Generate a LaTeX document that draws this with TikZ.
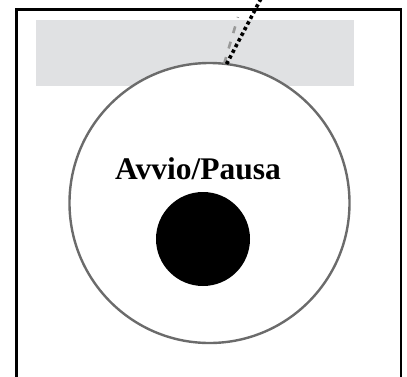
\documentclass[tikz,border=0pt]{standalone}
\usepackage{fontspec}
\setmainfont{Liberation Serif}
\usetikzlibrary{positioning}
\definecolor{bandgray}{RGB}{224,225,227}
\begin{document}
\begin{tikzpicture}[
    x=1pt, y=-1pt,
    frame/.style={draw=black, line width=2.2pt},
    band/.style={rectangle, fill=bandgray, minimum width=318pt, minimum height=66pt, inner sep=0pt, outer sep=0pt},
    knob/.style={circle, draw=black!58, line width=2.4pt, fill=white, minimum size=280pt, inner sep=0pt, outer sep=0pt},
    button/.style={circle, fill=black, minimum size=94pt, inner sep=0pt},
    caption/.style={font=\bfseries\fontsize{31.5}{36}\selectfont, inner sep=0pt},
    lead/.style={line width=3.6pt, dash pattern=on 3.4pt off 3pt},
    ghost/.style={draw=black!40, line width=2.6pt, dash pattern=on 7pt off 9pt}
]
\useasboundingbox (0,0) rectangle (407,376);

\draw[frame] (16.5,9.5) rectangle (401,382);

\node[band] (band) at (195,53) {};
\node[knob] (knob) at (209.5,203) {};
\node[button] (button) at (203,239) {};
\node[caption, anchor=base] (label) at (198,179) {Avvio/Pausa};

\coordinate (ghostend) at (238,17);
\coordinate (leadend) at (265.5,-10);
\draw[ghost] (knob.84) -- (ghostend);
\draw[lead] (knob.83) -- (leadend);

\end{tikzpicture}
\end{document}
